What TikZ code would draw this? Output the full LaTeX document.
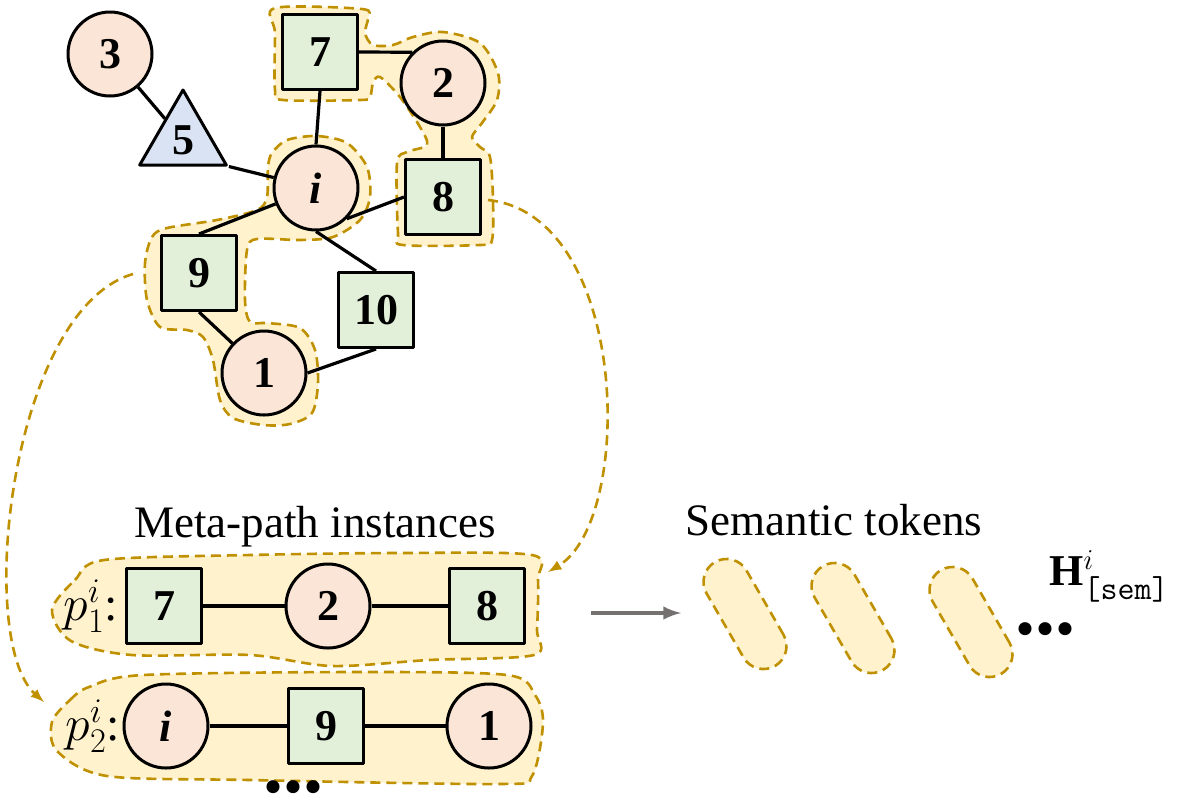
\documentclass[tikz,border=0pt]{standalone}
\usepackage{amsmath}
\usepackage{fontspec}
\setmainfont{Liberation Serif}
\usetikzlibrary{shapes.geometric}
\definecolor{peach}{HTML}{FBE5D6}
\definecolor{leaf}{HTML}{E2F0D9}
\definecolor{sky}{HTML}{DAE3F3}
\definecolor{cream}{HTML}{FFF2CC}
\definecolor{gold}{HTML}{BF9000}
\definecolor{ash}{HTML}{767171}
\newcommand{\numfont}{\fontsize{22}{26}\selectfont\bfseries}
\newcommand{\capfont}{\fontsize{22.5}{27}\selectfont}
\newcommand{\labfont}{\fontsize{24}{28}\selectfont}
\newcommand{\dotfont}{\fontsize{40}{40}\selectfont\bfseries}
\tikzset{
  ent/.style={circle,draw,line width=1.5pt,fill=peach,minimum size=42pt,inner sep=0pt,font=\numfont},
  itm/.style={rectangle,draw,line width=1.5pt,fill=leaf,minimum size=37.5pt,inner sep=0pt,font=\numfont},
  tag/.style={regular polygon,regular polygon sides=3,draw,line width=1.5pt,fill=sky,minimum size=50pt,inner sep=0pt,font=\numfont},
  link/.style={line width=1.6pt},
  blob/.style={draw=gold,fill=cream,line width=1.3pt,dash pattern=on 5pt off 3pt},
  hop/.style={->,draw=gold,line width=1.3pt,dash pattern=on 5pt off 3pt},
  token/.style={blob,rectangle,rounded corners=11.5pt,minimum width=60pt,minimum height=23pt,rotate=-60},
}
\begin{document}
\begin{tikzpicture}[>=latex,line join=round,x=0.5pt,y=-0.5pt]
\useasboundingbox (0,0) rectangle (1182,799);
%%
% Blob: 7 -- 2 -- 8
\draw[blob] plot[smooth cycle,tension=0.5] coordinates {(275,8) (362,9) (368,18) (365,33) (373,45) (393,45) (413,37) (443,32) (480,43) (498,73) (497,100) (482,123) (472,137) (480,147) (490,157) (493,200) (492,240) (480,245) (403,245) (398,233) (397,163) (407,152) (427,145) (420,127) (400,97) (380,77) (373,83) (370,97) (360,100) (283,100) (275,90) (275,33)};
% Blob: i -- 9 -- 1
\draw[blob] plot[smooth cycle,tension=0.5] coordinates {(272,153) (287,140) (317,136) (347,143) (367,167) (370,197) (360,220) (333,237) (300,240) (257,239) (247,250) (245,300) (250,322) (267,323) (300,328) (315,350) (318,383) (312,413) (290,424) (263,425) (233,418) (220,400) (213,360) (203,337) (187,330) (160,327) (147,300) (145,263) (152,237) (167,228) (217,220) (257,210) (267,197) (268,167)};
% Blob: row p1
\draw[blob] plot[smooth cycle,tension=0.5] coordinates {(52,610) (75,580) (104,560) (250,555) (400,553) (532,555) (538,580) (537,630) (534,655) (429,660) (332,666) (250,655) (132,655) (71,641)};
% Blob: row p2
\draw[blob] plot[smooth cycle,tension=0.5] coordinates {(52,722) (70,700) (89,687) (143,675) (357,672) (507,675) (535,695) (543,723) (532,776) (500,784) (250,780) (107,776) (57,751)};
%
% Node: graph
\node[ent] (n3) at (110,54) {3};
\node[tag] (n5) at (183,140) {5};
\node[itm] (n7) at (320,52) {7};
\node[ent] (n2) at (443,83) {2};
\node[ent] (ni) at (316,188) {\textit{i}};
\node[itm] (n8) at (443,197) {8};
\node[itm] (n9) at (199,273) {9};
\node[itm] (n10) at (376,310) {10};
\node[ent] (n1) at (264,373) {1};
%
% Edge: graph
\draw[link] (n3) -- (n5);
\draw[link] (n5.corner 3) -- (ni);
\draw[link] (n7.south) -- (ni.north);
\draw[link] (n7.east) -- (n2.north west);
\draw[link] (n2) -- (n8);
\draw[link] (ni.-45) -- (n8.west);
\draw[link] (n9.north) -- (ni);
\draw[link] (ni.south) -- (n10.north);
\draw[link] (n9.south) -- (n1);
\draw[link] (n1.east) -- (n10.south);
%
% Node: meta-path instances
\node[font=\capfont,anchor=base] (cap1) at (315,537) {Meta-path instances};
\node[font=\labfont,inner sep=0pt] (lab1) at (91,606) {$p^{i}_{1}$:};
\node[itm] (a7) at (164,606) {7};
\node[ent] (a2) at (328,606) {2};
\node[itm] (a8) at (487,606) {8};
\node[font=\labfont,inner sep=0pt] (lab2) at (93,726) {$p^{i}_{2}$:};
\node[ent] (bi) at (166,726) {\textit{i}};
\node[itm] (b9) at (326,726) {9};
\node[ent] (b1) at (489,726) {1};
\node[font=\dotfont,anchor=base,inner sep=0pt] (more1) at (293,792) {...};
% Edge: rows
\draw[link] (a7) -- (a2);
\draw[link] (a2) -- (a8);
\draw[link] (bi) -- (b9);
\draw[link] (b9) -- (b1);
%
% Edge: graph -> rows
\coordinate (out8) at (488,200);
\coordinate (in1) at (548,572);
\coordinate (out9) at (133,274);
\coordinate (in2) at (44,702);
\draw[hop] (out8) .. controls (630,215) and (635,520) .. (in1);
\draw[hop] (out9) .. controls (10,310) and (-25,640) .. (in2);
%
% Node: semantic tokens
\node[font=\capfont,anchor=base] (cap2) at (834,535) {Semantic tokens};
\coordinate (tail) at (591,613);
\coordinate (head) at (681,613);
\draw[->,ash,line width=2pt] (tail) -- (head);
\node[token] (tok1) at (745,614) {};
\node[token] (tok2) at (853,618) {};
\node[token] (tok3) at (971,622) {};
\node[font=\dotfont,anchor=base,inner sep=0pt] (more2) at (1045,634) {...};
\node[font=\numfont\mdseries,anchor=base west,inner sep=0pt] (hsem) at (1049,585) {$\mathbf{H}^{i}_{\text{\fontsize{16.5}{17}\selectfont\ttfamily [sem]}}$};
%
\end{tikzpicture}
\end{document}
